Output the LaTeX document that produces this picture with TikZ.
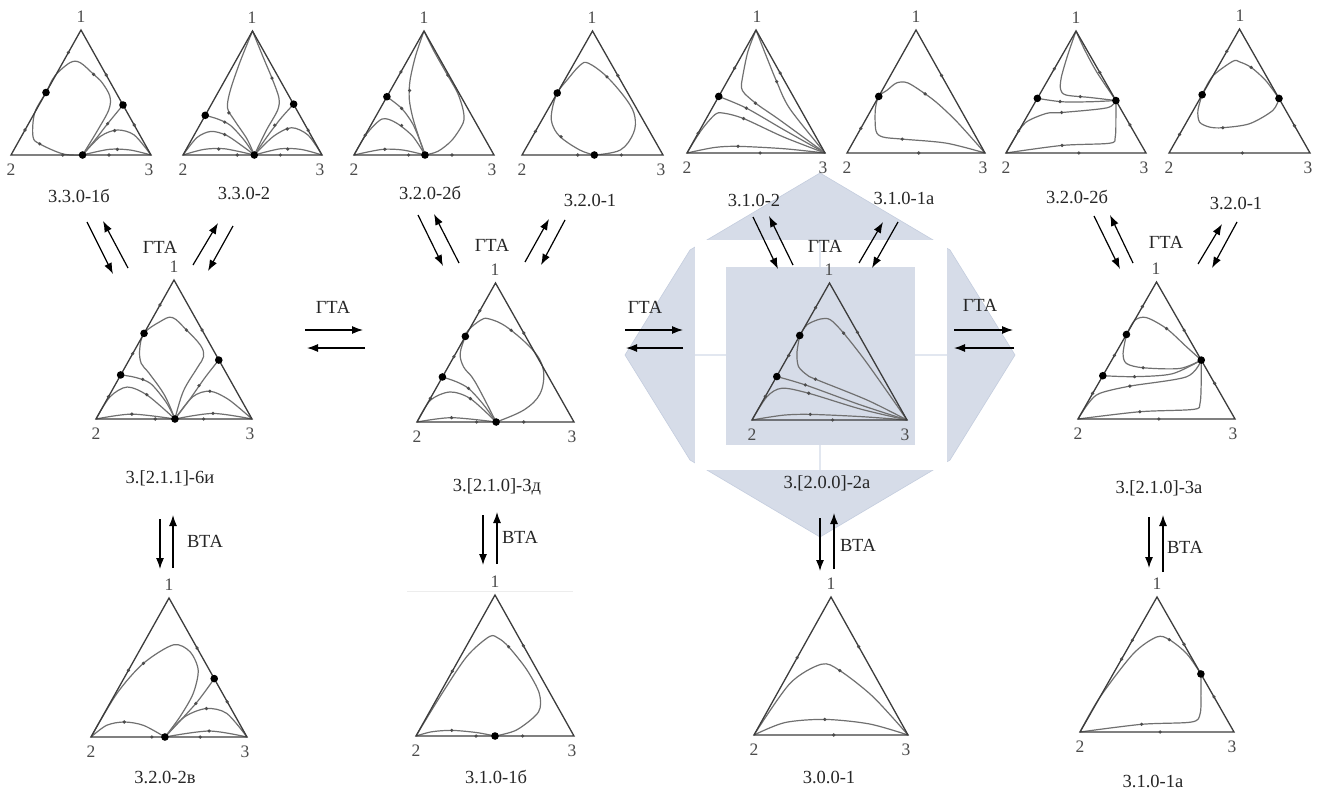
\documentclass[tikz,border=0pt]{standalone}
\usepackage{fontspec}
\setmainfont{Liberation Serif}
\usetikzlibrary{arrows.meta}
\definecolor{wm}{RGB}{214,220,232}
\definecolor{wmline}{RGB}{226,231,240}
\definecolor{wmedge}{RGB}{196,205,222}
\definecolor{edgec}{RGB}{60,60,60}
\definecolor{crvc}{RGB}{112,112,112}
\definecolor{labc}{RGB}{75,75,75}
\tikzset{
  triedge/.style={draw=edgec, line width=1.3pt, line join=miter},
  crv/.style={draw=crvc, line width=1.2pt},
  arr/.style={line width=1.2pt, -{Latex[length=11pt,width=8pt]}},
  capt/.style={font=\fontsize{18.5}{20}\selectfont, text=black!85, inner sep=0pt},
  vlab/.style={font=\fontsize{17.5}{19}\selectfont, text=labc, inner sep=0pt},
  tlab/.style={font=\fontsize{18.5}{20}\selectfont, text=black!85, inner sep=0pt},
}
\newcommand{\smdot}[1]{\fill[black!70] #1 circle[radius=1.8pt];}
\newcommand{\bgdot}[1]{\fill[black] #1 circle[radius=3.8pt];}
\begin{document}
\begin{tikzpicture}[x=1pt,y=-1pt]
\useasboundingbox (0,0) rectangle (1319,792);
\fill[white] (0,0) rectangle (1319,792);
% watermark
\fill[wm, draw=wmedge, line width=0.6pt] (820,173) -- (950,250) -- (1015,355) -- (950,460) -- (820,537) -- (690,460) -- (625,355) -- (690,250) -- cycle;
\fill[white] (695,240) rectangle (947,470);
\draw[wmline, line width=2pt] (820,240) -- (820,470) (695,355) -- (947,355);
\fill[wm] (726,267) rectangle (915,445);
% faint line
\draw[black!7, line width=1pt] (407,591) -- (573,591);

% ---------- T1 3.3.0-1б
\begin{scope}[shift={(11,155)},x={(140pt,0pt)},y={(0pt,125pt)}]
\draw[crv] plot[smooth,tension=0.55] coordinates {(0.511,0) (0.62,0.2) (0.699,0.363) (0.706,0.47) (0.65,0.58) (0.59,0.645) (0.494,0.739) (0.422,0.739) (0.313,0.632) (0.25,0.5) (0.169,0.336) (0.157,0.148) (0.205,0.089) (0.373,0.008) (0.511,0)};
\draw[crv] plot[smooth] coordinates {(0.8,0.4) (0.69,0.25) (0.6,0.12) (0.511,0)};
\draw[crv] plot[smooth] coordinates {(0.511,0) (0.64,0.15) (0.76,0.2) (0.88,0.16) (1,0)};
\draw[crv] plot[smooth] coordinates {(0.511,0) (0.7,0.045) (0.85,0.04) (1,0)};
\draw[triedge] (0,0) -- (1,0) -- (0.5,1) -- cycle;
\smdot{(0.59,0.645)} \smdot{(0.205,0.089)} \smdot{(0.69,0.25)} \smdot{(0.74,0.195)} \smdot{(0.76,0.045)}
\smdot{(0.37,0)} \smdot{(0.7,0)} \smdot{(0.41,0.82)} \smdot{(0.1,0.2)} \smdot{(0.68,0.64)} \smdot{(0.88,0.24)}
\bgdot{(0.25,0.5)} \bgdot{(0.8,0.4)} \bgdot{(0.511,0)}
\end{scope}

% ---------- T2 3.3.0-2
\begin{scope}[shift={(183,155)},x={(139pt,0pt)},y={(0pt,124pt)}]
\draw[crv] plot[smooth] coordinates {(0.5,1) (0.41,0.75) (0.34,0.52) (0.32,0.38) (0.37,0.28) (0.46,0.13) (0.513,0)};
\draw[crv] plot[smooth] coordinates {(0.5,1) (0.58,0.78) (0.64,0.62) (0.69,0.46) (0.68,0.36) (0.6,0.2) (0.513,0)};
\draw[crv] plot[smooth] coordinates {(0.16,0.32) (0.25,0.29) (0.34,0.24) (0.44,0.12) (0.513,0)};
\draw[crv] plot[smooth] coordinates {(0,0) (0.1,0.14) (0.2,0.19) (0.31,0.16) (0.43,0.07) (0.513,0)};
\draw[crv] plot[smooth] coordinates {(0,0) (0.15,0.045) (0.3,0.05) (0.513,0)};
\draw[crv] plot[smooth] coordinates {(0.796,0.41) (0.7,0.29) (0.6,0.14) (0.513,0)};
\draw[crv] plot[smooth] coordinates {(0.513,0) (0.65,0.15) (0.78,0.22) (0.9,0.16) (1,0)};
\draw[crv] plot[smooth] coordinates {(0.513,0) (0.7,0.05) (0.85,0.045) (1,0)};
\draw[triedge] (0,0) -- (1,0) -- (0.5,1) -- cycle;
\smdot{(0.64,0.62)} \smdot{(0.33,0.34)} \smdot{(0.3,0.265)} \smdot{(0.3,0.165)} \smdot{(0.257,0.048)}
\smdot{(0.66,0.24)} \smdot{(0.75,0.21)} \smdot{(0.753,0.048)} \smdot{(0.39,0)} \smdot{(0.7,0)} \smdot{(0.9,0.2)}
\bgdot{(0.16,0.32)} \bgdot{(0.796,0.41)} \bgdot{(0.513,0)}
\end{scope}

% ---------- T3 3.2.0-2б
\begin{scope}[shift={(354,155)},x={(140pt,0pt)},y={(0pt,124pt)}]
\draw[crv] plot[smooth] coordinates {(0.5,1) (0.44,0.8) (0.4,0.6) (0.395,0.45) (0.42,0.3) (0.47,0.12) (0.507,0)};
\draw[crv] plot[smooth] coordinates {(0.5,1) (0.57,0.84) (0.66,0.66) (0.74,0.5) (0.78,0.36) (0.78,0.26) (0.7,0.12) (0.6,0.03) (0.507,0)};
\draw[crv] plot[smooth] coordinates {(0.235,0.47) (0.34,0.376) (0.42,0.25) (0.48,0.09) (0.507,0)};
\draw[crv] plot[smooth] coordinates {(0,0) (0.09,0.17) (0.2,0.29) (0.3,0.26) (0.42,0.15) (0.507,0)};
\draw[crv] plot[smooth] coordinates {(0,0) (0.2,0.045) (0.35,0.04) (0.507,0)};
\draw[triedge] (0,0) -- (1,0) -- (0.5,1) -- cycle;
\smdot{(0.397,0.52)} \smdot{(0.34,0.376)} \smdot{(0.34,0.238)} \smdot{(0.22,0.046)} \smdot{(0.67,0.645)}
\smdot{(0.39,0)} \smdot{(0.7,0)} \smdot{(0.335,0.67)} \smdot{(0.08,0.16)}
\bgdot{(0.235,0.47)} \bgdot{(0.507,0)}
\end{scope}

% ---------- T4 3.2.0-1
\begin{scope}[shift={(522,155)},x={(141pt,0pt)},y={(0pt,124pt)}]
\draw[crv] plot[smooth,tension=0.6] coordinates {(0.513,0) (0.697,0.04) (0.79,0.175) (0.80,0.31) (0.745,0.44) (0.603,0.63) (0.473,0.739) (0.414,0.726) (0.32,0.605) (0.25,0.5) (0.213,0.363) (0.213,0.255) (0.27,0.148) (0.41,0.04) (0.513,0)};
\draw[triedge] (0,0) -- (1,0) -- (0.5,1) -- cycle;
\smdot{(0.603,0.63)} \smdot{(0.277,0.148)} \smdot{(0.68,0.64)} \smdot{(0.095,0.19)} \smdot{(0.395,0)} \smdot{(0.705,0)}
\bgdot{(0.25,0.5)} \bgdot{(0.513,0)}
\end{scope}

% ---------- T5 3.1.0-2
\begin{scope}[shift={(687,153)},x={(138pt,0pt)},y={(0pt,123pt)}]
\draw[crv] plot[smooth] coordinates {(0.5,1) (0.44,0.82) (0.4,0.6) (0.395,0.53) (0.42,0.48) (0.515,0.39) (0.67,0.27) (1,0)};
\draw[crv] plot[smooth] coordinates {(0.5,1) (0.57,0.8) (0.65,0.58) (0.745,0.36) (1,0)};
\draw[crv] plot[smooth] coordinates {(0.23,0.46) (0.43,0.365) (0.7,0.19) (1,0)};
\draw[crv] plot[smooth] coordinates {(0,0) (0.1,0.18) (0.2,0.31) (0.26,0.325) (0.41,0.28) (0.7,0.13) (1,0)};
\draw[crv] plot[smooth] coordinates {(0,0) (0.2,0.045) (0.37,0.054) (0.7,0.035) (1,0)};
\draw[triedge] (0,0) -- (1,0) -- (0.5,1) -- cycle;
\smdot{(0.496,0.405)} \smdot{(0.65,0.58)} \smdot{(0.43,0.365)} \smdot{(0.41,0.28)} \smdot{(0.37,0.054)}
\smdot{(0.53,0)} \smdot{(0.345,0.69)} \smdot{(0.08,0.16)} \smdot{(0.675,0.65)}
\bgdot{(0.23,0.46)}
\end{scope}

% ---------- T6 3.1.0-1a
\begin{scope}[shift={(847,153)},x={(138pt,0pt)},y={(0pt,123pt)}]
\draw[crv] plot[smooth] coordinates {(1,0) (0.8,0.25) (0.66,0.4) (0.566,0.481) (0.44,0.57) (0.36,0.57) (0.29,0.51) (0.23,0.46) (0.205,0.35) (0.21,0.18) (0.26,0.13) (0.40,0.113) (0.72,0.08) (1,0)};
\draw[triedge] (0,0) -- (1,0) -- (0.5,1) -- cycle;
\smdot{(0.566,0.481)} \smdot{(0.40,0.113)} \smdot{(0.1,0.2)} \smdot{(0.685,0.63)} \smdot{(0.52,0)}
\bgdot{(0.23,0.46)}
\end{scope}

% ---------- T7 3.2.0-2б
\begin{scope}[shift={(1006,153)},x={(140pt,0pt)},y={(0pt,122pt)}]
\draw[crv] plot[smooth] coordinates {(0.5,1) (0.44,0.8) (0.395,0.62) (0.39,0.52) (0.43,0.475) (0.6,0.455) (0.785,0.43)};
\draw[crv] plot[smooth] coordinates {(0.5,1) (0.56,0.85) (0.65,0.66) (0.785,0.43)};
\draw[crv] plot[smooth] coordinates {(0.224,0.448) (0.4,0.42) (0.6,0.42) (0.785,0.43)};
\draw[crv] plot[smooth] coordinates {(0,0) (0.06,0.12) (0.14,0.25) (0.29,0.325) (0.4,0.332) (0.72,0.37) (0.785,0.43)};
\draw[crv] plot[smooth] coordinates {(0,0) (0.4,0.062) (0.74,0.08) (0.78,0.13) (0.785,0.3) (0.785,0.43)};
\draw[triedge] (0,0) -- (1,0) -- (0.5,1) -- cycle;
\smdot{(0.53,0.462)} \smdot{(0.386,0.422)} \smdot{(0.397,0.332)} \smdot{(0.4,0.062)} \smdot{(0.52,0)}
\smdot{(0.345,0.69)} \smdot{(0.09,0.18)} \smdot{(0.67,0.66)} \smdot{(0.885,0.23)}
\bgdot{(0.224,0.448)} \bgdot{(0.785,0.43)}
\end{scope}

% ---------- T8 3.2.0-1
\begin{scope}[shift={(1169,153)},x={(141pt,0pt)},y={(0pt,124pt)}]
\draw[crv] plot[smooth] coordinates {(0.235,0.47) (0.31,0.62) (0.453,0.74) (0.5,0.735) (0.583,0.69) (0.686,0.584) (0.78,0.44)};
\draw[crv] plot[smooth] coordinates {(0.235,0.47) (0.205,0.343) (0.217,0.249) (0.288,0.209) (0.382,0.204) (0.571,0.236) (0.736,0.343) (0.78,0.44)};
\draw[triedge] (0,0) -- (1,0) -- (0.5,1) -- cycle;
\smdot{(0.583,0.69)} \smdot{(0.382,0.204)} \smdot{(0.075,0.15)} \smdot{(0.89,0.22)} \smdot{(0.52,0)} \smdot{(0.41,0.82)}
\bgdot{(0.235,0.47)} \bgdot{(0.78,0.44)}
\end{scope}

% ---------- A 3.[2.1.1]-6и
\begin{scope}[shift={(96,419)},x={(156pt,0pt)},y={(0pt,139pt)}]
\draw[crv] plot[smooth,tension=0.6] coordinates {(0.506,0) (0.56,0.2) (0.65,0.37) (0.69,0.45) (0.67,0.53) (0.58,0.64) (0.49,0.73) (0.41,0.7) (0.308,0.616) (0.28,0.5) (0.29,0.4) (0.34,0.33) (0.44,0.17) (0.506,0)};
\draw[crv] plot[smooth] coordinates {(0.158,0.317) (0.25,0.3) (0.35,0.255) (0.45,0.12) (0.506,0)};
\draw[crv] plot[smooth] coordinates {(0,0) (0.09,0.16) (0.2,0.23) (0.33,0.17) (0.506,0)};
\draw[crv] plot[smooth] coordinates {(0,0) (0.23,0.035) (0.506,0)};
\draw[crv] plot[smooth] coordinates {(0.787,0.424) (0.7,0.3) (0.6,0.14) (0.506,0)};
\draw[crv] plot[smooth] coordinates {(0.506,0) (0.62,0.16) (0.73,0.2) (0.85,0.14) (1,0)};
\draw[crv] plot[smooth] coordinates {(0.506,0) (0.75,0.04) (1,0)};
\draw[triedge] (0,0) -- (1,0) -- (0.5,1) -- cycle;
\smdot{(0.58,0.64)} \smdot{(0.3,0.285)} \smdot{(0.326,0.175)} \smdot{(0.23,0.035)} \smdot{(0.66,0.24)}
\smdot{(0.73,0.2)} \smdot{(0.75,0.04)} \smdot{(0.38,0)} \smdot{(0.69,0)}
\smdot{(0.41,0.82)} \smdot{(0.235,0.47)} \smdot{(0.08,0.16)} \smdot{(0.68,0.64)}
\bgdot{(0.308,0.616)} \bgdot{(0.158,0.317)} \bgdot{(0.787,0.424)} \bgdot{(0.506,0)}
\end{scope}

% ---------- B 3.[2.1.0]-3д
\begin{scope}[shift={(417,422)},x={(157pt,0pt)},y={(0pt,139pt)}]
\draw[crv] plot[smooth,tension=0.6] coordinates {(0.504,0) (0.68,0.086) (0.784,0.204) (0.805,0.372) (0.74,0.515) (0.572,0.683) (0.455,0.743) (0.403,0.731) (0.33,0.665) (0.308,0.616) (0.275,0.492) (0.297,0.396) (0.35,0.324) (0.40,0.228) (0.504,0)};
\draw[crv] plot[smooth] coordinates {(0.162,0.324) (0.25,0.29) (0.33,0.24) (0.42,0.13) (0.504,0)};
\draw[crv] plot[smooth] coordinates {(0,0) (0.085,0.156) (0.21,0.216) (0.34,0.168) (0.504,0)};
\draw[crv] plot[smooth] coordinates {(0,0) (0.22,0.031) (0.504,0)};
\draw[triedge] (0,0) -- (1,0) -- (0.5,1) -- cycle;
\smdot{(0.6,0.66)} \smdot{(0.328,0.242)} \smdot{(0.34,0.168)} \smdot{(0.22,0.031)} \smdot{(0.38,0)} \smdot{(0.68,0)}
\smdot{(0.4,0.8)} \smdot{(0.235,0.47)} \smdot{(0.085,0.17)} \smdot{(0.68,0.64)}
\bgdot{(0.308,0.616)} \bgdot{(0.162,0.324)} \bgdot{(0.504,0)}
\end{scope}

% ---------- C 3.[2.0.0]-2a
\begin{scope}[shift={(752,420)},x={(155pt,0pt)},y={(0pt,137pt)}]
\draw[crv] plot[smooth] coordinates {(0.308,0.617) (0.355,0.695) (0.441,0.737) (0.505,0.732) (0.591,0.634) (0.742,0.415) (1,0)};
\draw[crv] plot[smooth] coordinates {(0.308,0.617) (0.29,0.49) (0.30,0.39) (0.355,0.329) (0.409,0.298) (0.742,0.146) (1,0)};
\draw[crv] plot[smooth] coordinates {(0.16,0.317) (0.344,0.256) (0.7,0.11) (1,0)};
\draw[crv] plot[smooth] coordinates {(0,0) (0.097,0.171) (0.194,0.232) (0.366,0.195) (0.7,0.08) (1,0)};
\draw[crv] plot[smooth] coordinates {(0,0) (0.2,0.035) (0.376,0.041) (0.7,0.025) (1,0)};
\draw[triedge] (0,0) -- (1,0) -- (0.5,1) -- cycle;
\smdot{(0.591,0.634)} \smdot{(0.409,0.298)} \smdot{(0.344,0.256)} \smdot{(0.366,0.195)} \smdot{(0.376,0.041)} \smdot{(0.52,0)}
\smdot{(0.41,0.82)} \smdot{(0.237,0.471)} \smdot{(0.086,0.172)} \smdot{(0.68,0.64)}
\bgdot{(0.308,0.617)} \bgdot{(0.16,0.317)}
\end{scope}

% ---------- D 3.[2.1.0]-3a
\begin{scope}[shift={(1078,419)},x={(157pt,0pt)},y={(0pt,137pt)}]
\draw[crv] plot[smooth] coordinates {(0.3085,0.617) (0.362,0.721) (0.436,0.74) (0.564,0.66) (0.691,0.527) (0.785,0.43)};
\draw[crv] plot[smooth] coordinates {(0.3085,0.617) (0.287,0.478) (0.309,0.405) (0.415,0.374) (0.649,0.369) (0.785,0.43)};
\draw[crv] plot[smooth] coordinates {(0.158,0.316) (0.36,0.309) (0.6,0.33) (0.785,0.43)};
\draw[crv] plot[smooth] coordinates {(0,0) (0.07,0.12) (0.138,0.187) (0.33,0.24) (0.691,0.308) (0.785,0.43)};
\draw[crv] plot[smooth] coordinates {(0,0) (0.394,0.053) (0.734,0.07) (0.777,0.114) (0.785,0.284) (0.785,0.43)};
\draw[triedge] (0,0) -- (1,0) -- (0.5,1) -- cycle;
\smdot{(0.564,0.66)} \smdot{(0.415,0.374)} \smdot{(0.36,0.309)} \smdot{(0.33,0.24)} \smdot{(0.394,0.053)} \smdot{(0.515,0)}
\smdot{(0.41,0.82)} \smdot{(0.232,0.464)} \smdot{(0.093,0.187)} \smdot{(0.676,0.648)} \smdot{(0.87,0.26)}
\bgdot{(0.3085,0.617)} \bgdot{(0.158,0.316)} \bgdot{(0.785,0.43)}
\end{scope}

% ---------- E 3.2.0-2в
\begin{scope}[shift={(91,737)},x={(156pt,0pt)},y={(0pt,139pt)}]
\draw[crv] plot[smooth] coordinates {(0,0) (0.166,0.313) (0.336,0.53) (0.528,0.663) (0.634,0.614) (0.687,0.482) (0.655,0.313) (0.57,0.145) (0.474,0)};
\draw[crv] plot[smooth] coordinates {(0,0) (0.1,0.084) (0.213,0.108) (0.336,0.084) (0.474,0)};
\draw[crv] plot[smooth] coordinates {(0.79,0.42) (0.672,0.241) (0.474,0)};
\draw[crv] plot[smooth] coordinates {(0.474,0) (0.6,0.145) (0.74,0.205) (0.87,0.17) (1,0)};
\draw[crv] plot[smooth] coordinates {(0.474,0) (0.757,0.043) (1,0)};
\draw[triedge] (0,0) -- (1,0) -- (0.5,1) -- cycle;
\smdot{(0.336,0.53)} \smdot{(0.213,0.108)} \smdot{(0.672,0.241)} \smdot{(0.74,0.205)} \smdot{(0.757,0.043)}
\smdot{(0.39,0)} \smdot{(0.70,0)} \smdot{(0.68,0.64)} \smdot{(0.873,0.253)} \smdot{(0.24,0.48)}
\bgdot{(0.79,0.42)} \bgdot{(0.474,0)}
\end{scope}

% ---------- F 3.1.0-1б
\begin{scope}[shift={(416,736)},x={(158pt,0pt)},y={(0pt,141pt)}]
\draw[crv] plot[smooth] coordinates {(0,0) (0.152,0.279) (0.321,0.563) (0.464,0.705) (0.522,0.693) (0.586,0.633) (0.7,0.472) (0.78,0.303) (0.775,0.17) (0.637,0.043) (0.5,0)};
\draw[crv] plot[smooth] coordinates {(0,0) (0.1,0.03) (0.226,0.04) (0.38,0.025) (0.5,0)};
\draw[triedge] (0,0) -- (1,0) -- (0.5,1) -- cycle;
\smdot{(0.586,0.633)} \smdot{(0.226,0.04)} \smdot{(0.38,0)} \smdot{(0.675,0)} \smdot{(0.23,0.46)} \smdot{(0.68,0.64)}
\bgdot{(0.5,0)}
\end{scope}

% ---------- G 3.0.0-1
\begin{scope}[shift={(754,735)},x={(154pt,0pt)},y={(0pt,138pt)}]
\draw[crv] plot[smooth] coordinates {(0,0) (0.233,0.373) (0.438,0.513) (0.557,0.467) (0.773,0.277) (1,0)};
\draw[crv] plot[smooth] coordinates {(0,0) (0.2,0.09) (0.46,0.113) (0.75,0.08) (1,0)};
\draw[triedge] (0,0) -- (1,0) -- (0.5,1) -- cycle;
\smdot{(0.557,0.467)} \smdot{(0.46,0.113)} \smdot{(0.518,0)} \smdot{(0.28,0.56)} \smdot{(0.68,0.64)}
\end{scope}

% ---------- H 3.1.0-1a
\begin{scope}[shift={(1080,732)},x={(154pt,0pt)},y={(0pt,135pt)}]
\draw[crv] plot[smooth] coordinates {(0,0) (0.13,0.259) (0.346,0.58) (0.498,0.704) (0.58,0.684) (0.693,0.58) (0.785,0.43)};
\draw[crv] plot[smooth] coordinates {(0,0) (0.4,0.057) (0.725,0.074) (0.78,0.136) (0.785,0.284) (0.785,0.43)};
\draw[triedge] (0,0) -- (1,0) -- (0.5,1) -- cycle;
\smdot{(0.58,0.684)} \smdot{(0.4,0.057)} \smdot{(0.52,0)} \smdot{(0.34,0.68)} \smdot{(0.27,0.54)} \smdot{(0.675,0.65)} \smdot{(0.87,0.26)}
\bgdot{(0.785,0.43)}
\end{scope}

% ---------- vertex labels
\foreach \n/\ax/\ay/\bx/\by/\cx in {t1/81/30/11/155/151, t2/252/31/183/155/322, t3/424/31/354/155/494, t4/592/31/522/155/663, t5/757/30/687/153/825, t6/916/30/847/153/985, t7/1076/31/1006/153/1146, t8/1240/29/1169/153/1310, tA/174/280/96/419/252, tB/495/283/417/422/574, tC/829/283/752/420/907, tD/1156/282/1078/419/1235, tE/169/598/91/737/247, tF/495/595/416/736/574, tG/831/597/754/735/908, tH/1157/597/1080/732/1234}{
  \node[vlab] (\n v1) at (\ax,\ay-13) {1};
  \node[vlab] (\n v2) at (\bx,\by+15) {2};
  \node[vlab] (\n v3) at (\cx-2,\by+15) {3};
}

% ---------- captions
\node[capt] (c1) at (79,196) {3.3.0-1б};
\node[capt] (c2) at (244,193) {3.3.0-2};
\node[capt] (c3) at (430,193) {3.2.0-2б};
\node[capt] (c4) at (590,200) {3.2.0-1};
\node[capt] (c5) at (754,200) {3.1.0-2};
\node[capt] (c6) at (904,198) {3.1.0-1a};
\node[capt] (c7) at (1077,197) {3.2.0-2б};
\node[capt] (c8) at (1236,203) {3.2.0-1};
\node[capt] (cA) at (170,478) {3.[2.1.1]-6и};
\node[capt] (cB) at (497,487) {3.[2.1.0]-3д};
\node[capt] (cC) at (827,483) {3.[2.0.0]-2a};
\node[capt] (cD) at (1159,488) {3.[2.1.0]-3a};
\node[capt] (cE) at (165,777) {3.2.0-2в};
\node[capt] (cF) at (496,777) {3.1.0-1б};
\node[capt] (cG) at (829,777) {3.0.0-1};
\node[capt] (cH) at (1153,781) {3.1.0-1a};

% ---------- transition labels
\node[tlab] (gA) at (160,247) {ГТА};
\node[tlab] (gB) at (492,245) {ГТА};
\node[tlab] (gC) at (825,246) {ГТА};
\node[tlab] (gD) at (1166,242) {ГТА};
\node[tlab] (gAB) at (333,307) {ГТА};
\node[tlab] (gBC) at (645,307) {ГТА};
\node[tlab] (gCD) at (980,305) {ГТА};
\node[tlab] (vA) at (205,541) {ВТА};
\node[tlab] (vB) at (520,537) {ВТА};
\node[tlab] (vC) at (858,545) {ВТА};
\node[tlab] (vD) at (1185,547) {ВТА};

% ---------- arrow coordinates
\coordinate (A1s) at (87,222);  \coordinate (A1e) at (113,274);
\coordinate (A2s) at (128,268); \coordinate (A2e) at (103,221);
\coordinate (A3s) at (193,265); \coordinate (A3e) at (218,223);
\coordinate (A4s) at (233,226); \coordinate (A4e) at (208,271);
\coordinate (B1s) at (418,215); \coordinate (B1e) at (443,266);
\coordinate (B2s) at (459,263); \coordinate (B2e) at (434,214);
\coordinate (B3s) at (525,262); \coordinate (B3e) at (549,219);
\coordinate (B4s) at (565,220); \coordinate (B4e) at (541,265);
\coordinate (C1s) at (753,217); \coordinate (C1e) at (778,269);
\coordinate (C2s) at (793,265); \coordinate (C2e) at (769,216);
\coordinate (C3s) at (859,263); \coordinate (C3e) at (883,222);
\coordinate (C4s) at (898,222); \coordinate (C4e) at (872,268);
\coordinate (D1s) at (1094,216); \coordinate (D1e) at (1120,269);
\coordinate (D2s) at (1133,263); \coordinate (D2e) at (1110,215);
\coordinate (D3s) at (1198,264); \coordinate (D3e) at (1222,224);
\coordinate (D4s) at (1237,222); \coordinate (D4e) at (1212,268);
\coordinate (H1s) at (305,330); \coordinate (H1e) at (363,330);
\coordinate (H2s) at (365,348); \coordinate (H2e) at (307,348);
\coordinate (H3s) at (625,330); \coordinate (H3e) at (683,330);
\coordinate (H4s) at (683,348); \coordinate (H4e) at (626,348);
\coordinate (H5s) at (954,330); \coordinate (H5e) at (1013,330);
\coordinate (H6s) at (1014,348); \coordinate (H6e) at (954,348);
\coordinate (V1s) at (160,519); \coordinate (V1e) at (160,569);
\coordinate (V2s) at (173,568); \coordinate (V2e) at (173,515);
\coordinate (V3s) at (483,515); \coordinate (V3e) at (483,565);
\coordinate (V4s) at (497,564); \coordinate (V4e) at (497,512);
\coordinate (V5s) at (820,518); \coordinate (V5e) at (820,571);
\coordinate (V6s) at (834,569); \coordinate (V6e) at (834,513);
\coordinate (V7s) at (1149,517); \coordinate (V7e) at (1149,568);
\coordinate (V8s) at (1163,572); \coordinate (V8e) at (1163,515);
\foreach \p in {A1,A2,A3,A4,B1,B2,B3,B4,C1,C2,C3,C4,D1,D2,D3,D4,H1,H2,H3,H4,H5,H6,V1,V2,V3,V4,V5,V6,V7,V8}
  \draw[arr] (\p s) -- (\p e);
\end{tikzpicture}
\end{document}
